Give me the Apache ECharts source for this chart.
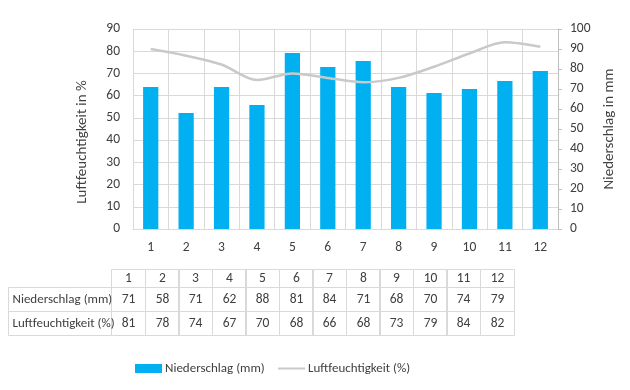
<!DOCTYPE html>
<html><head><meta charset="utf-8">
<script src="https://cdn.jsdelivr.net/npm/echarts@6/dist/echarts.min.js"></script>
<style>html,body{margin:0;padding:0;background:#fff}#c{width:630px;height:390px}</style>
</head><body><div id="c"></div>
<script>
const months = ['1','2','3','4','5','6','7','8','9','10','11','12'];
const niederschlag = [71,58,71,62,88,81,84,71,68,70,74,79];
const luftfeuchtigkeit = [81,78,74,67,70,68,66,68,73,79,84,82];
const rowLabels = ['Niederschlag (mm)','Luftfeuchtigkeit (%)'];
const leftTicks = {min:0, max:90, interval:10};
const rightTicks = {min:0, max:100, interval:10};

const FONT = 'Carlito, sans-serif';
const TXT = '#404040';
const GRID = '#d9d9d9';

const bodyRows = [niederschlag.map(String), luftfeuchtigkeit.map(String)];
const headerData = months.map((m, c) => [c, 0]);
const bodyData = [];
bodyRows.forEach((row, r) => row.forEach((v, c) => bodyData.push([c, r])));
const labelData = rowLabels.map((l, r) => [0, r]);

function cell(textFn, align, size) {
  return function (params, api) {
    const p = api.coord([api.value(0), api.value(1)]);
    const s = api.size([1, 1]);
    const x0 = Math.round(p[0] - s[0] / 2) + 0.5, y0 = Math.round(p[1] - s[1] / 2) + 0.5;
    const w = Math.round(s[0]), h = Math.round(s[1]);
    return {
      type: 'group',
      children: [
        {type: 'rect', shape: {x: x0, y: y0, width: w, height: h}, style: {fill: 'none', stroke: GRID, lineWidth: 1}},
        {type: 'text', style: {
          text: textFn(params.dataIndex),
          x: align === 'left' ? x0 + 4 : x0 + w / 2, y: y0 + h / 2 + 0.5,
          align: align, verticalAlign: 'middle',
          fill: TXT, font: size + 'px ' + FONT
        }}
      ]
    };
  };
}

const chart = echarts.init(document.getElementById('c'), null, {renderer: 'canvas'});
chart.setOption({
  animation: false,
  textStyle: {fontFamily: FONT},
  legend: [
    {left: 130, top: 357, itemWidth: 27, itemHeight: 9, icon: 'rect',
     textStyle: {color: TXT, fontSize: 13, fontFamily: FONT, padding: [0,0,0,-2]},
     data: ['Niederschlag (mm)']},
    {left: 273, top: 357, itemWidth: 27, itemHeight: 2, icon: 'rect',
     itemStyle: {color: '#c9c9c9'},
     textStyle: {color: TXT, fontSize: 13, fontFamily: FONT, padding: [0,0,0,-2]},
     data: ['Luftfeuchtigkeit (%)']}
  ],
  grid: [
    {left: 133, right: 72, top: 29, bottom: 161},
    {left: 111, right: 117, top: 269, height: 18},
    {left: 111, right: 117, top: 287, height: 47},
    {left: 8, width: 103, top: 287, height: 47}
  ],
  xAxis: [
    {type: 'category', gridIndex: 0, data: months,
     axisLine: {show: true, lineStyle: {color: GRID}}, axisTick: {show: false},
     splitLine: {show: true, interval: 0, lineStyle: {color: GRID}},
     axisLabel: {color: TXT, fontSize: 13.5, margin: 12, fontFamily: FONT}},
    {type: 'category', gridIndex: 1, data: months, show: false},
    {type: 'category', gridIndex: 2, data: months, show: false},
    {type: 'category', gridIndex: 3, data: ['l'], show: false}
  ],
  yAxis: [
    {type: 'value', gridIndex: 0, min: leftTicks.min, max: leftTicks.max, interval: leftTicks.interval,
     name: 'Luftfeuchtigkeit in %', nameLocation: 'middle', nameGap: 43,
     nameTextStyle: {color: TXT, fontSize: 15, fontFamily: FONT, padding: [0, 26, 0, 0]},
     axisLine: {show: false}, axisTick: {show: false},
     splitLine: {show: true, lineStyle: {color: GRID}},
     axisLabel: {color: TXT, fontSize: 13.5, margin: 13, fontFamily: FONT}},
    {type: 'value', gridIndex: 0, position: 'right', min: rightTicks.min, max: rightTicks.max, interval: rightTicks.interval,
     name: 'Niederschlag in mm', nameLocation: 'middle', nameGap: 41,
     nameTextStyle: {color: TXT, fontSize: 15, fontFamily: FONT},
     axisLine: {show: true, lineStyle: {color: '#bfbfbf'}},
     axisTick: {show: true, length: 4, lineStyle: {color: '#bfbfbf'}},
     splitLine: {show: false},
     axisLabel: {color: TXT, fontSize: 13.5, margin: 12, fontFamily: FONT}},
    {type: 'category', gridIndex: 1, data: ['h'], show: false},
    {type: 'category', gridIndex: 2, data: rowLabels, inverse: true, show: false},
    {type: 'category', gridIndex: 3, data: rowLabels, inverse: true, show: false}
  ],
  series: [
    {name: 'Niederschlag (mm)', type: 'bar', xAxisIndex: 0, yAxisIndex: 1, data: niederschlag,
     barWidth: '43%', itemStyle: {color: '#00B0F0'}, z: 2},
    {name: 'Luftfeuchtigkeit (%)', type: 'line', xAxisIndex: 0, yAxisIndex: 0, data: luftfeuchtigkeit,
     smooth: 0.3, symbol: 'none', lineStyle: {color: '#c9c9c9', width: 2.5}, itemStyle: {color: '#c9c9c9'}, z: 3},
    {type: 'custom', xAxisIndex: 1, yAxisIndex: 2, data: headerData, silent: true,
     renderItem: cell(i => months[i], 'center', 13.5)},
    {type: 'custom', xAxisIndex: 2, yAxisIndex: 3, data: bodyData, silent: true,
     renderItem: cell(i => bodyRows[bodyData[i][1]][bodyData[i][0]], 'center', 13.5)},
    {type: 'custom', xAxisIndex: 3, yAxisIndex: 4, data: labelData, silent: true,
     renderItem: cell(i => rowLabels[i], 'left', 13)}
  ]
});
</script></body></html>
